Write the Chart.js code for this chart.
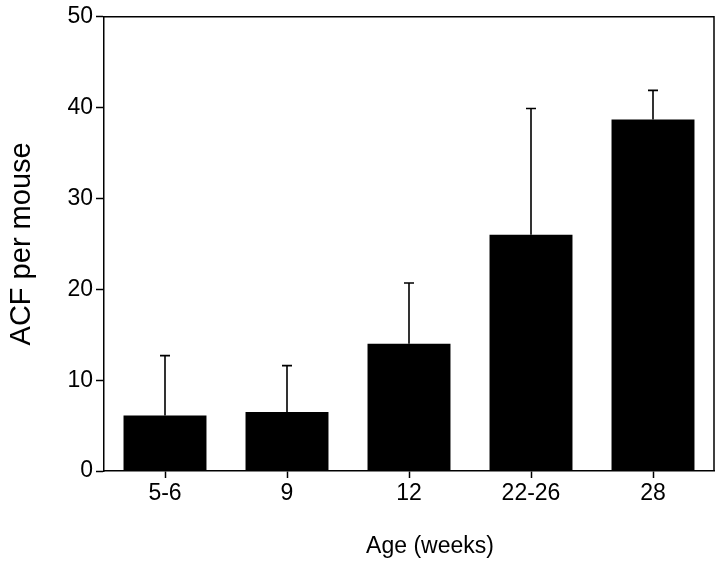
<!DOCTYPE html>
<html>
<head>
<meta charset="utf-8">
<script src="https://cdn.jsdelivr.net/npm/chart.js@4"></script>
<style>
  html, body { margin: 0; padding: 0; background: #fff; }
  #wrap { width: 720px; height: 561px; }
</style>
</head>
<body>
<div id="wrap"><canvas id="acfChart"></canvas></div>
<script>
// Data
const ages = ["5-6", "9", "12", "22-26", "28"];
const acfMean = [6.1, 6.5, 14.0, 26.0, 38.7];
const acfError = [6.6, 5.1, 6.7, 13.9, 3.2];
const yTicks = [0, 10, 20, 30, 40, 50];
const xTitle = "Age (weeks)";

const FONT = "'Liberation Sans', Arial, Helvetica, sans-serif";

// Upward error bars, closed frame and the x axis title
const errorBars = {
    id: "errorBars",
    afterDatasetsDraw(chart) {
        const ctx = chart.ctx;
        const x = chart.scales.x;
        const y = chart.scales.y;
        ctx.save();
        ctx.strokeStyle = "#000";
        ctx.lineWidth = 1.6;
        acfMean.forEach((v, i) => {
            const px = x.getPixelForValue(i);
            const top = y.getPixelForValue(v + acfError[i]);
            const base = y.getPixelForValue(v);
            ctx.beginPath();
            ctx.moveTo(px, base);
            ctx.lineTo(px, top);
            ctx.moveTo(px - 5, top);
            ctx.lineTo(px + 5, top);
            ctx.stroke();
        });
        // top and right sides of the box
        const a = chart.chartArea;
        ctx.lineWidth = 1.5;
        ctx.beginPath();
        ctx.moveTo(a.left, a.top);
        ctx.lineTo(a.right, a.top);
        ctx.lineTo(a.right, a.bottom);
        ctx.stroke();
        // x title sits a little right of the plot centre in the original
        ctx.fillStyle = "#000";
        ctx.font = "23px " + FONT;
        ctx.textAlign = "center";
        ctx.textBaseline = "middle";
        ctx.fillText(xTitle, (a.left + a.right) / 2 + 21, 547);
        ctx.restore();
    }
};

const ctx = document.getElementById("acfChart").getContext("2d");
new Chart(ctx, {
    type: "bar",
    data: {
        labels: ages,
        datasets: [{
            label: "ACF per mouse",
            data: acfMean,
            backgroundColor: "#000",
            borderWidth: 0,
            barPercentage: 0.68,
            categoryPercentage: 1.0
        }]
    },
    options: {
        responsive: true,
        maintainAspectRatio: false,
        animation: false,
        layout: { padding: { left: 0, right: 6, top: 12, bottom: 0 } },
        plugins: {
            legend: { display: false },
            tooltip: { enabled: false }
        },
        scales: {
            x: {
                grid: { display: true, offset: false, drawOnChartArea: false, tickLength: 7, tickColor: "#000", tickWidth: 1.5 },
                border: { display: true, color: "#000", width: 1.5 },
                ticks: { color: "#000", font: { family: FONT, size: 23 }, padding: 2 },
                afterFit(scale) { scale.height = 90; }
            },
            y: {
                min: 0,
                max: 50,
                afterBuildTicks(scale) { scale.ticks = yTicks.map(v => ({ value: v })); },
                grid: { display: true, drawOnChartArea: false, tickLength: 8, tickColor: "#000", tickWidth: 1.5 },
                border: { display: true, color: "#000", width: 1.5 },
                ticks: { color: "#000", font: { family: FONT, size: 23 }, padding: 3 },
                title: {
                    display: true,
                    text: "ACF per mouse",
                    color: "#000",
                    font: { family: FONT, size: 29 },
                    padding: { top: 5, bottom: 0 }
                },
                afterFit(scale) { scale.width = 104; }
            }
        }
    },
    plugins: [errorBars]
});
</script>
</body>
</html>
